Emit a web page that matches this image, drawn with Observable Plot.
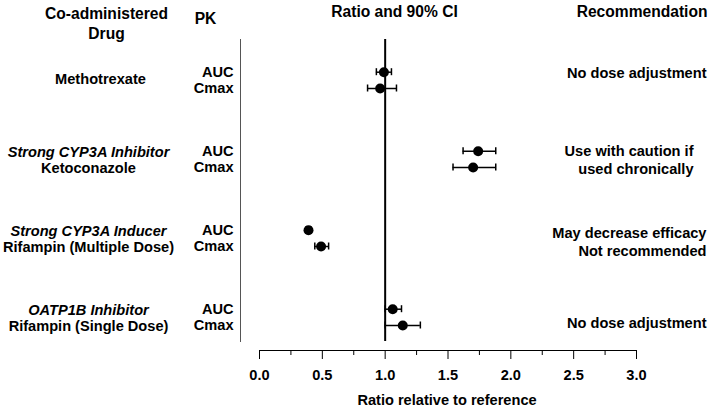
<!DOCTYPE html>
<html>
<head>
<meta charset="utf-8">
<script src="https://cdn.jsdelivr.net/npm/d3@7"></script>
<script src="https://cdn.jsdelivr.net/npm/@observablehq/plot@0.6"></script>
<style>
  html, body { margin: 0; padding: 0; background: #fff; }
</style>
</head>
<body>
<div id="chart"></div>
<script>
const groups = ["Methotrexate", "Ketoconazole", "Rifampin (Multiple Dose)", "Rifampin (Single Dose)"];
const drugClasses = ["", "Strong CYP3A Inhibitor", "Strong CYP3A Inducer", "OATP1B Inhibitor"];
const pkParams = ["AUC", "Cmax"];
const aucRatio = [0.99, 1.74, 0.39, 1.06];
const aucLo    = [0.93, 1.62, 0.37, 1.00];
const aucHi    = [1.05, 1.88, 0.41, 1.13];
const cmaxRatio = [0.96, 1.70, 0.49, 1.14];
const cmaxLo    = [0.86, 1.54, 0.44, 1.00];
const cmaxHi    = [1.09, 1.88, 0.55, 1.28];
const recommendations = [
  "No dose adjustment",
  "Use with caution if\nused chronically",
  "May decrease efficacy\nNot recommended",
  "No dose adjustment"
];
const xTicks = [0, 0.5, 1, 1.5, 2, 2.5, 3];
const xMinorTicks = [0.25, 0.75, 1.25, 1.75, 2.25, 2.75];
const headers = ["Co-administered\nDrug", "PK", "Ratio and 90% CI", "Recommendation"];
const xLabel = "Ratio relative to reference";

const rows = groups.flatMap((g, i) => [
  {group: g, pk: pkParams[0], ratio: aucRatio[i], lo: aucLo[i], hi: aucHi[i]},
  {group: g, pk: pkParams[1], ratio: cmaxRatio[i], lo: cmaxLo[i], hi: cmaxHi[i]}
]);
const groupInfo = groups.map((g, i) => ({group: g, cls: drugClasses[i], rec: recommendations[i], i}));

const FS = 14.6;
const HS = 15.6;

function rowMarks(data, dy) {
  return [
    Plot.ruleY(data, {x1: "lo", x2: "hi", y: "group", dy, stroke: "#000", strokeWidth: 1.5}),
    Plot.ruleX(data, {x: "lo", y1: "group", y2: "group", dy, insetTop: -3.5, insetBottom: -3.5, stroke: "#000", strokeWidth: 1.5}),
    Plot.ruleX(data, {x: "hi", y1: "group", y2: "group", dy, insetTop: -3.5, insetBottom: -3.5, stroke: "#000", strokeWidth: 1.5}),
    Plot.dot(data, {x: "ratio", y: "group", dy, r: 5, fill: "#000", stroke: "none"}),
    Plot.text(data, {y: "group", text: "pk", frameAnchor: "left", dx: -7, dy, textAnchor: "end", lineAnchor: "middle", fontSize: FS})
  ];
}

const auc = rows.filter(d => d.pk === "AUC");
const cmax = rows.filter(d => d.pk === "Cmax");
const mid = {textAnchor: "middle", lineAnchor: "middle"};

const chart = Plot.plot({
  width: 709,
  height: 408,
  marginLeft: 240,
  marginRight: 73,
  marginTop: 39,
  marginBottom: 58,
  style: {fontFamily: "'Liberation Sans', Arial, sans-serif", fontSize: "14px", fontWeight: "bold", color: "#000", background: "#fff"},
  x: {domain: [0, 3], insetLeft: 19},
  y: {type: "point", domain: groups, range: [79, 317], padding: 0, axis: null},
  marks: [
    Plot.frame({anchor: "left", insetBottom: 9, stroke: "#555", strokeWidth: 1}),
    Plot.frame({anchor: "bottom", insetLeft: 19, stroke: "#000", strokeWidth: 1}),
    Plot.axisX({ticks: xTicks, tickSize: 9, tickPadding: 10, tickFormat: d3.format(".1f"), label: null, fontSize: FS, strokeWidth: 1}),
    Plot.axisX({ticks: xMinorTicks, tickSize: 5, tickFormat: () => "", label: null, strokeWidth: 1}),
    Plot.ruleX([1], {insetBottom: 9, stroke: "#000", strokeWidth: 2}),
    ...rowMarks(auc, -8.3),
    ...rowMarks(cmax, 8),
    // drug classes (italic) and names
    Plot.text(groupInfo.filter(d => d.cls), {y: "group", text: "cls", frameAnchor: "left", dx: -152, dy: -7.5, fontStyle: "italic", fontSize: FS, ...mid}),
    Plot.text(groupInfo.filter(d => d.cls), {y: "group", text: "group", frameAnchor: "left", dx: -152, dy: 9, fontSize: FS, ...mid}),
    Plot.text(groupInfo.filter(d => !d.cls), {y: "group", text: "group", frameAnchor: "left", dx: -140, dy: -1, fontSize: FS, ...mid}),
    // recommendations
    Plot.text(groupInfo.filter(d => d.i === 0), {y: "group", text: "rec", frameAnchor: "right", dx: 70, dy: -7.5, textAnchor: "end", lineAnchor: "middle", fontSize: FS}),
    Plot.text(groupInfo.filter(d => d.i === 1), {y: "group", text: "rec", frameAnchor: "right", dx: 57, dy: 0, textAnchor: "end", lineAnchor: "middle", fontSize: FS, lineHeight: 1.18}),
    Plot.text(groupInfo.filter(d => d.i === 2), {y: "group", text: "rec", frameAnchor: "right", dx: 70, dy: 3, textAnchor: "end", lineAnchor: "middle", fontSize: FS, lineHeight: 1.18}),
    Plot.text(groupInfo.filter(d => d.i === 3), {y: "group", text: "rec", frameAnchor: "right", dx: 70, dy: 6, textAnchor: "end", lineAnchor: "middle", fontSize: FS}),
    // headers
    Plot.text([headers[0]], {frameAnchor: "top-left", dx: -134, dy: -16.5, fontSize: HS, lineHeight: 1.28, ...mid}),
    Plot.text([headers[1]], {frameAnchor: "top-left", dx: -35, dy: -21, fontSize: HS, ...mid}),
    Plot.text([headers[2]], {frameAnchor: "top-left", dx: 154, dy: -27.5, fontSize: HS, ...mid}),
    Plot.text([headers[3]], {frameAnchor: "top-right", dx: 71, dy: -27.5, textAnchor: "end", lineAnchor: "middle", fontSize: HS}),
    // x label
    Plot.text([xLabel], {frameAnchor: "bottom", dx: 8.5, dy: 50, fontSize: FS, ...mid})
  ]
});
document.getElementById("chart").appendChild(chart);
</script>
</body>
</html>
